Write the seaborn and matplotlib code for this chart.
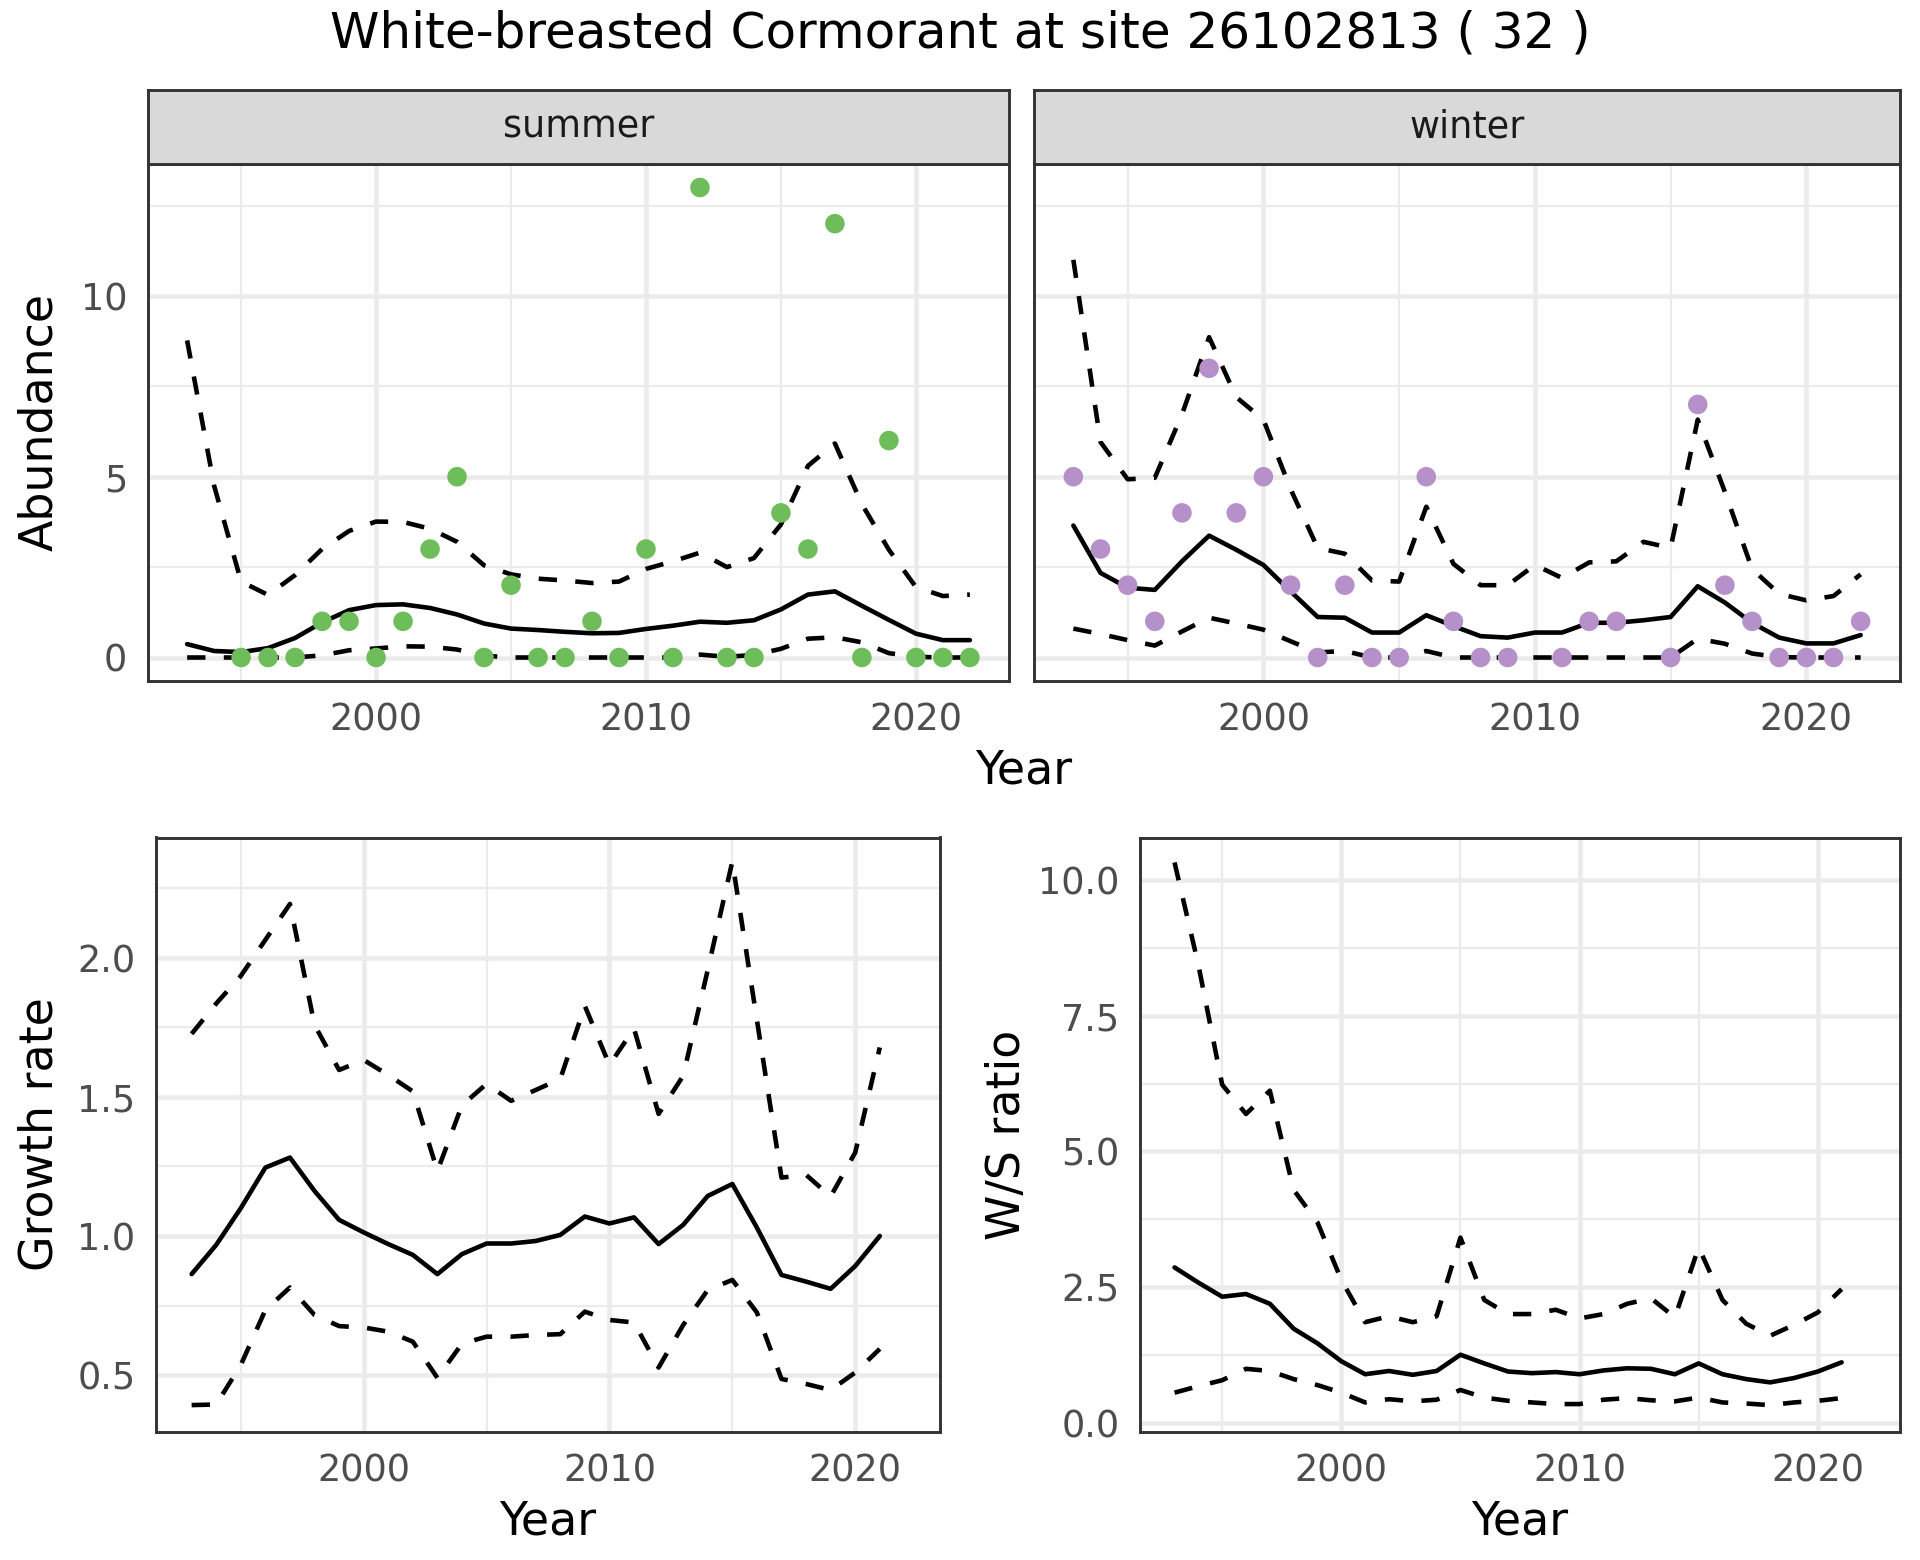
import numpy as np
import pandas as pd
import matplotlib
matplotlib.use("Agg")
import matplotlib.pyplot as plt
import seaborn as sns
from matplotlib.ticker import FixedLocator

nan = np.nan

YEARS = list(range(1993, 2023))
YEARS_RATE = list(range(1993, 2022))

SUMMER_COUNT = [nan, nan, 0, 0, 0, 1, 1, 0, 1, 3, 5, 0, 2, 0, 0, 1, 0, 3, 0, 13,
                0, 0, 4, 3, 12, 0, 6, 0, 0, 0]
SUMMER_MEAN = [0.37, 0.18, 0.15, 0.26, 0.54, 0.97, 1.31, 1.45, 1.47, 1.37, 1.19,
               0.94, 0.80, 0.76, 0.71, 0.67, 0.68, 0.79, 0.88, 0.99, 0.96, 1.03,
               1.33, 1.74, 1.83, 1.43, 1.04, 0.66, 0.48, 0.48]
SUMMER_UPPER = [8.77, 4.75, 2.10, 1.73, 2.28, 3.00, 3.50, 3.76, 3.75, 3.56, 3.20,
                2.55, 2.30, 2.18, 2.13, 2.06, 2.10, 2.45, 2.66, 2.90, 2.50, 2.75,
                3.68, 5.30, 5.92, 4.24, 2.98, 1.95, 1.70, 1.74]
SUMMER_LOWER = [0, 0, 0, 0, 0, 0.06, 0.20, 0.25, 0.31, 0.30, 0.22, 0.05, 0, 0, 0,
                0, 0, 0, 0, 0.08, 0.02, 0.07, 0.24, 0.52, 0.56, 0.42, 0.12, 0.02,
                0, 0]

WINTER_COUNT = [5, 3, 2, 1, 4, 8, 4, 5, 2, 0, 2, 0, 0, 5, 1, 0, 0, nan, 0, 1,
                1, nan, 0, 7, 2, 1, 0, 0, 0, 1]
WINTER_MEAN = [3.65, 2.34, 1.93, 1.87, 2.66, 3.37, 2.98, 2.56, 1.83, 1.12, 1.10,
               0.69, 0.69, 1.17, 0.87, 0.59, 0.55, 0.69, 0.69, 0.96, 0.96, 1.03,
               1.12, 1.97, 1.52, 0.96, 0.55, 0.39, 0.39, 0.62]
WINTER_UPPER = [11.0, 5.96, 4.93, 4.97, 6.72, 8.86, 7.20, 6.58, 4.66, 3.03, 2.87,
                2.13, 2.10, 4.17, 2.59, 2.00, 2.00, 2.56, 2.20, 2.63, 2.66, 3.20,
                3.03, 6.58, 4.58, 2.45, 1.76, 1.58, 1.70, 2.30]
WINTER_LOWER = [0.80, 0.65, 0.48, 0.33, 0.72, 1.10, 0.94, 0.77, 0.45, 0.14, 0.18,
                0, 0, 0.18, 0, 0, 0, 0, 0, 0, 0, 0, 0, 0.52, 0.38, 0.11, 0.01, 0,
                0, 0]

GROWTH_MEAN = [0.863, 0.968, 1.10, 1.246, 1.282, 1.162, 1.058, 1.013, 0.971,
               0.932, 0.863, 0.935, 0.973, 0.973, 0.982, 1.004, 1.07, 1.045,
               1.067, 0.971, 1.04, 1.144, 1.187, 1.03, 0.86, 0.836, 0.81, 0.892,
               1.0]
GROWTH_UPPER = [1.727, 1.836, 1.935, 2.065, 2.194, 1.759, 1.597, 1.633, 1.579,
                1.52, 1.234, 1.47, 1.547, 1.486, 1.525, 1.565, 1.827, 1.615,
                1.746, 1.439, 1.576, 1.957, 2.347, 1.777, 1.21, 1.22, 1.142,
                1.30, 1.678]
GROWTH_LOWER = [0.392, 0.394, 0.536, 0.734, 0.815, 0.716, 0.676, 0.671, 0.656,
                0.62, 0.49, 0.613, 0.638, 0.638, 0.644, 0.647, 0.728, 0.698,
                0.689, 0.527, 0.68, 0.806, 0.842, 0.725, 0.486, 0.468, 0.446,
                0.509, 0.594]

WS_MEAN = [2.86, 2.58, 2.32, 2.37, 2.19, 1.73, 1.46, 1.13, 0.89, 0.95, 0.88,
           0.95, 1.25, 1.09, 0.94, 0.91, 0.93, 0.89, 0.96, 1.00, 0.99, 0.89,
           1.09, 0.89, 0.80, 0.74, 0.82, 0.94, 1.11]
WS_UPPER = [10.33, 8.44, 6.23, 5.69, 6.12, 4.29, 3.69, 2.63, 1.85, 1.96, 1.85,
            1.96, 3.41, 2.26, 2.00, 2.00, 2.08, 1.92, 2.00, 2.19, 2.29, 1.94,
            3.23, 2.26, 1.82, 1.60, 1.80, 2.03, 2.46]
WS_LOWER = [0.55, 0.67, 0.78, 0.99, 0.95, 0.80, 0.69, 0.55, 0.37, 0.43, 0.39,
            0.42, 0.60, 0.46, 0.40, 0.37, 0.34, 0.34, 0.42, 0.45, 0.41, 0.39,
            0.46, 0.37, 0.35, 0.32, 0.37, 0.40, 0.45]

TITLE = "White-breasted Cormorant at site 26102813 ( 32 )"
SUMMER_COLOR = "#6DBD5B"
WINTER_COLOR = "#B590C9"
GRID = "#EBEBEB"
DARK = "#333333"
TICK_TEXT = "#4D4D4D"

W, H = 1920, 1560
XLIM = (1991.55, 2023.45)


def rect(x0, y0, x1, y1):
    return [x0 / W, 1 - y1 / H, (x1 - x0) / W, (y1 - y0) / H]


def style_axes(ax, yticks, yminor, show_y=True):
    ax.set_xlim(*XLIM)
    ax.xaxis.set_major_locator(FixedLocator([2000, 2010, 2020]))
    ax.xaxis.set_minor_locator(FixedLocator([1995, 2005, 2015]))
    ax.yaxis.set_major_locator(FixedLocator(yticks))
    ax.yaxis.set_minor_locator(FixedLocator(yminor))
    ax.set_axisbelow(True)
    ax.grid(which="major", color=GRID, linewidth=1.1)
    ax.grid(which="minor", color=GRID, linewidth=0.55)
    ax.tick_params(which="major", length=2.75, width=0.8, color=DARK,
                   labelsize=8.8, labelcolor=TICK_TEXT, pad=2.2)
    ax.tick_params(which="minor", length=0)
    if not show_y:
        ax.tick_params(axis="y", which="both", length=0, labelleft=False)
    for sp in ax.spines.values():
        sp.set_color(DARK)
        sp.set_linewidth(0.7)
    ax.set_xlabel("")
    ax.set_ylabel("")


def draw_band(ax, x, mean, lower, upper):
    df = pd.DataFrame({"Year": x, "mean": mean, "lower": lower, "upper": upper})
    for col, ls in [("upper", (0, (4, 4))), ("lower", (0, (4, 4))), ("mean", "-")]:
        sns.lineplot(data=df, x="Year", y=col, ax=ax, color="black",
                     linewidth=1.1, linestyle=ls, errorbar=None)


def strip(fig, box, label):
    s = fig.add_axes(rect(*box))
    s.set_facecolor("#D9D9D9")
    s.set_xticks([])
    s.set_yticks([])
    for sp in s.spines.values():
        sp.set_color(DARK)
        sp.set_linewidth(0.7)
    s.text(0.5, 0.5, label, ha="center", va="center", fontsize=8.8,
           color="#1A1A1A", transform=s.transAxes)


if __name__ == "__main__":
    sns.set_style("white")
    plt.rcParams["font.family"] = ["DejaVu Sans"]
    plt.rcParams["text.color"] = "black"

    fig = plt.figure(figsize=(6.4, 5.2), dpi=300)

    top_ylim = (-0.65, 13.65)
    panels = [
        ((148, 164, 1009, 681), (148, 90, 1009, 164), "summer",
         SUMMER_COUNT, SUMMER_MEAN, SUMMER_LOWER, SUMMER_UPPER, SUMMER_COLOR, True),
        ((1034, 164, 1900, 681), (1034, 90, 1900, 164), "winter",
         WINTER_COUNT, WINTER_MEAN, WINTER_LOWER, WINTER_UPPER, WINTER_COLOR, False),
    ]
    for box, sbox, label, cnt, mean, lo, up, col, show_y in panels:
        ax = fig.add_axes(rect(*box))
        pts = pd.DataFrame({"Year": YEARS, "count": cnt}).dropna()
        draw_band(ax, YEARS, mean, lo, up)
        sns.scatterplot(data=pts, x="Year", y="count", ax=ax, color=col,
                        s=22, edgecolor="none", zorder=3)
        ax.set_ylim(*top_ylim)
        style_axes(ax, [0, 5, 10], [2.5, 7.5, 12.5], show_y)
        strip(fig, sbox, label)

    ax_g = fig.add_axes(rect(156, 837.5, 940, 1431.5))
    draw_band(ax_g, YEARS_RATE, GROWTH_MEAN, GROWTH_LOWER, GROWTH_UPPER)
    ax_g.set_ylim(0.297, 2.433)
    style_axes(ax_g, [0.5, 1.0, 1.5, 2.0], [0.75, 1.25, 1.75, 2.25])

    ax_r = fig.add_axes(rect(1140, 837.5, 1900, 1431.5))
    draw_band(ax_r, YEARS_RATE, WS_MEAN, WS_LOWER, WS_UPPER)
    ax_r.set_ylim(-0.166, 10.79)
    style_axes(ax_r, [0, 2.5, 5, 7.5, 10], [1.25, 3.75, 6.25, 8.75])
    ax_r.yaxis.set_major_formatter(plt.FuncFormatter(lambda v, p: f"{v:.1f}"))

    fig.text(960 / W, 1 - 34 / H, TITLE, ha="center", va="center", fontsize=12)
    fig.text(1024 / W, 1 - 771 / H, "Year", ha="center", va="center", fontsize=11)
    fig.text(40 / W, 1 - 422 / H, "Abundance", ha="center", va="center",
             rotation=90, fontsize=11)
    fig.text(548 / W, 1 - 1522 / H, "Year", ha="center", va="center", fontsize=11)
    fig.text(1520 / W, 1 - 1522 / H, "Year", ha="center", va="center", fontsize=11)
    fig.text(40 / W, 1 - 1134.5 / H, "Growth rate", ha="center", va="center",
             rotation=90, fontsize=11)
    fig.text(1007 / W, 1 - 1134.5 / H, "W/S ratio", ha="center", va="center",
             rotation=90, fontsize=11)

    fig.savefig("out.png", dpi=300, facecolor="white")
    plt.close(fig)
